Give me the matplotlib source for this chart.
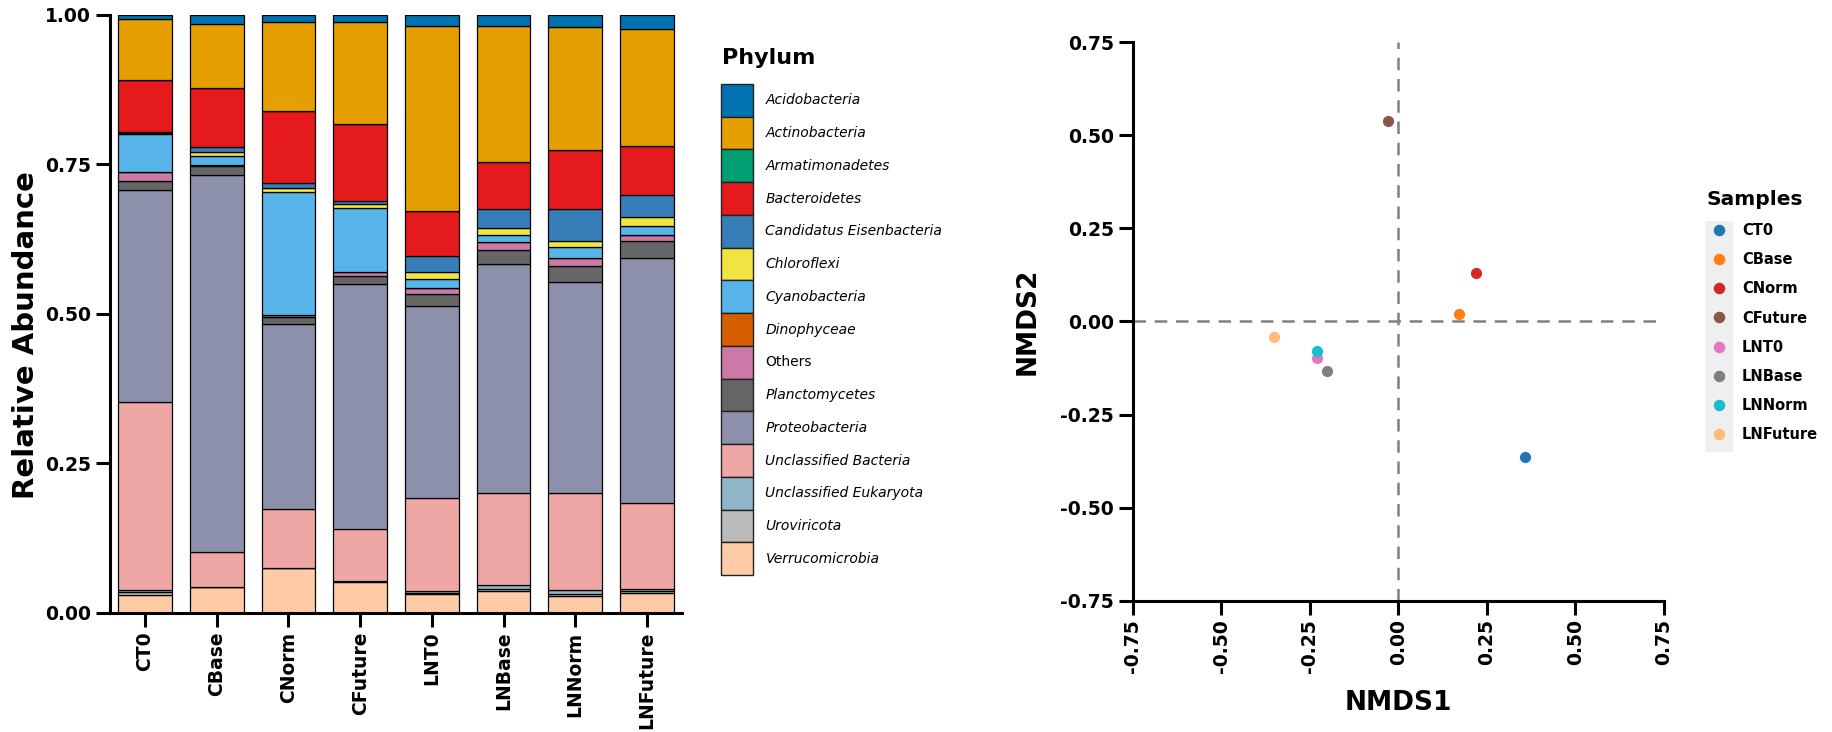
import matplotlib
matplotlib.use("Agg")
from matplotlib import pyplot as plt
from matplotlib.patches import Patch, Rectangle
from matplotlib.lines import Line2D
import numpy as np

# Sample names (same order on both panels)
samples = ["CT0", "CBase", "CNorm", "CFuture", "LNT0", "LNBase", "LNNorm", "LNFuture"]

# Relative abundance per phylum, one value per sample
acidobacteria = [0.0065, 0.0145, 0.0125, 0.012, 0.019, 0.019, 0.020, 0.0245]
actinobacteria = [0.102, 0.107, 0.148, 0.171, 0.3095, 0.227, 0.2065, 0.1945]
armatimonadetes = [0.0005, 0.0, 0.0, 0.0, 0.0, 0.0, 0.0, 0.0]
bacteroidetes = [0.0865, 0.0995, 0.1205, 0.1285, 0.075, 0.0795, 0.099, 0.0825]
candidatus_eisenbacteria = [0.003, 0.008, 0.008, 0.0055, 0.0265, 0.0315, 0.053, 0.0375]
chloroflexi = [0.001, 0.0055, 0.008, 0.007, 0.0115, 0.0115, 0.0105, 0.0145]
cyanobacteria = [0.063, 0.0165, 0.205, 0.107, 0.016, 0.012, 0.0185, 0.015]
dinophyceae = [0.001, 0.0, 0.0, 0.0, 0.0, 0.0, 0.0, 0.0]
others = [0.0145, 0.001, 0.004, 0.006, 0.0095, 0.013, 0.012, 0.0095]
planctomycetes = [0.0155, 0.015, 0.012, 0.0135, 0.020, 0.024, 0.027, 0.0285]
proteobacteria = [0.3545, 0.631, 0.309, 0.410, 0.321, 0.382, 0.3535, 0.4105]
unclassified_bacteria = [0.314, 0.0575, 0.098, 0.0865, 0.155, 0.1545, 0.162, 0.144]
unclassified_eukaryota = [0.004, 0.0, 0.0, 0.0, 0.004, 0.006, 0.006, 0.003]
uroviricota = [0.004, 0.0, 0.0005, 0.001, 0.002, 0.003, 0.004, 0.003]
verrucomicrobia = [0.030, 0.0435, 0.0745, 0.052, 0.031, 0.037, 0.028, 0.033]

phyla = ["Acidobacteria", "Actinobacteria", "Armatimonadetes", "Bacteroidetes",
         "Candidatus Eisenbacteria", "Chloroflexi", "Cyanobacteria", "Dinophyceae",
         "Others", "Planctomycetes", "Proteobacteria", "Unclassified Bacteria",
         "Unclassified Eukaryota", "Uroviricota", "Verrucomicrobia"]
abundance = [acidobacteria, actinobacteria, armatimonadetes, bacteroidetes,
             candidatus_eisenbacteria, chloroflexi, cyanobacteria, dinophyceae,
             others, planctomycetes, proteobacteria, unclassified_bacteria,
             unclassified_eukaryota, uroviricota, verrucomicrobia]
phylum_colors = ["#0072B2", "#E69F00", "#009E73", "#E41A1C", "#377EB8", "#F0E442",
                 "#56B4E9", "#D55E00", "#CC79A7", "#666666", "#8C90AB", "#EFA7A5",
                 "#92B6C9", "#BBBBBB", "#FFCBA6"]

# NMDS ordination coordinates
nmds1 = [0.358, 0.172, 0.220, -0.031, -0.229, -0.202, -0.229, -0.353]
nmds2 = [-0.364, 0.020, 0.130, 0.538, -0.097, -0.134, -0.079, -0.042]
sample_colors = ["#1f77b4", "#ff7f0e", "#d62728", "#8c564b",
                 "#e377c2", "#7f7f7f", "#17becf", "#ffbb78"]

plt.rcParams["font.family"] = ["DejaVu Sans"]

fig = plt.figure(figsize=(18.33, 7.32), dpi=100)

# ---- stacked bars ----
ax1 = fig.add_axes([0.0600, 0.1630, 0.3121, 0.8169])
x = np.arange(len(samples))
bottom = np.zeros(len(samples))
# stack from the last phylum up so the legend order reads top-down
for name, vals, col in reversed(list(zip(phyla, abundance, phylum_colors))):
    vals = np.array(vals)
    ax1.bar(x, vals, bottom=bottom, width=0.75, color=col,
            edgecolor="black", linewidth=0.9)
    bottom += vals

ax1.set_xlim(-0.49, 7.49)
ax1.set_ylim(0, 1)
ax1.set_yticks([0, 0.25, 0.5, 0.75, 1.0])
ax1.set_yticklabels(["0.00", "0.25", "0.50", "0.75", "1.00"])
ax1.set_xticks(x)
ax1.set_xticklabels(samples, rotation=90)
ax1.set_ylabel("Relative Abundance", fontsize=21, fontweight="bold")
ax1.yaxis.set_label_coords(-0.122, 0.4635)
for s in ["top", "right"]:
    ax1.spines[s].set_visible(False)
for s in ["left", "bottom"]:
    ax1.spines[s].set_linewidth(2.2)
ax1.tick_params(axis="both", length=10, width=2.2, labelsize=13.5)
for lab in ax1.get_xticklabels() + ax1.get_yticklabels():
    lab.set_fontweight("bold")

# phylum legend: swatches stacked edge to edge
fig.text(722 / 1833, 1 - 58 / 732, "Phylum", fontsize=16, fontweight="bold",
         ha="left", va="center")
handles = [Patch(facecolor=c, edgecolor="#222222", linewidth=1.0) for c in phylum_colors]
leg1 = fig.legend(handles, phyla, loc="upper left", bbox_to_anchor=(721 / 1833, 1 - 84 / 732),
                  frameon=False, fontsize=10,
                  handlelength=2.3, handleheight=3.25, labelspacing=0.0,
                  handletextpad=0.9, borderpad=0, borderaxespad=0)
for t in leg1.get_texts():
    if t.get_text() != "Others":
        t.set_fontstyle("italic")

# ---- NMDS scatter ----
ax2 = fig.add_axes([0.6181, 0.1794, 0.2897, 0.7628])
ax2.axhline(0, color="#808080", linestyle=(0, (5, 3.5)), linewidth=1.8, zorder=1)
ax2.axvline(0, color="#808080", linestyle=(0, (5, 3.5)), linewidth=1.8, zorder=1)
for xi, yi, c in zip(nmds1, nmds2, sample_colors):
    ax2.scatter(xi, yi, s=65, color=c, zorder=3, linewidths=0)

ticks = [-0.75, -0.5, -0.25, 0, 0.25, 0.5, 0.75]
ax2.set_xlim(-0.75, 0.75)
ax2.set_ylim(-0.75, 0.75)
ax2.set_xticks(ticks)
ax2.set_yticks(ticks)
ax2.set_xticklabels(["%.2f" % t for t in ticks], rotation=90)
ax2.set_yticklabels(["%.2f" % t for t in ticks])
ax2.set_xlabel("NMDS1", fontsize=19, fontweight="bold", labelpad=12)
ax2.set_ylabel("NMDS2", fontsize=19, fontweight="bold", labelpad=14)
for s in ["top", "right"]:
    ax2.spines[s].set_visible(False)
for s in ["left", "bottom"]:
    ax2.spines[s].set_linewidth(2.2)
ax2.tick_params(axis="both", length=10, width=2.2, labelsize=13.5)
for lab in ax2.get_xticklabels() + ax2.get_yticklabels():
    lab.set_fontweight("bold")

# shaded strip behind the sample markers
fig.patches.append(Rectangle((1705 / 1833, 1 - 452 / 732), 28 / 1833, 231 / 732,
                             transform=fig.transFigure, facecolor="#efefef",
                             edgecolor="none", zorder=0))
sample_handles = [Line2D([], [], marker="o", linestyle="none", markersize=8.3,
                         markerfacecolor=c, markeredgecolor="none") for c in sample_colors]
leg2 = fig.legend(sample_handles, samples, loc="upper left",
                  bbox_to_anchor=(1707 / 1833, 1 - 190 / 732), frameon=False,
                  fontsize=10.5, title="Samples", alignment="left", handlelength=1.6,
                  handletextpad=0.8, labelspacing=0.97, borderpad=0, borderaxespad=0)
leg2.get_title().set_fontsize(14.5)
leg2.get_title().set_fontweight("bold")
for t in leg2.get_texts():
    t.set_fontweight("bold")

fig.savefig("out.png", dpi=100)
